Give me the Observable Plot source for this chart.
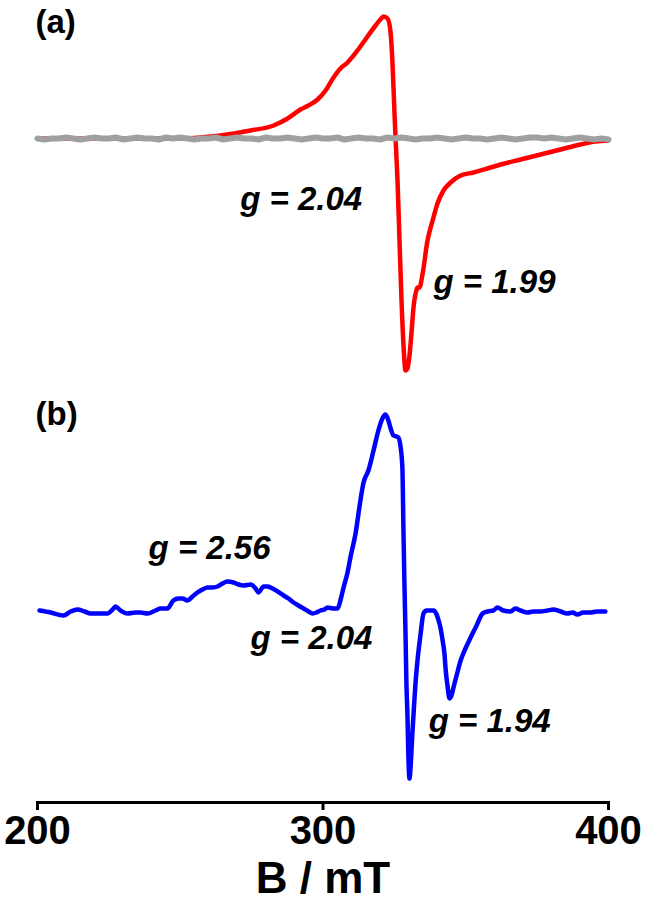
<!DOCTYPE html>
<html><head><meta charset="utf-8">
<script src="https://cdn.jsdelivr.net/npm/d3@7"></script>
<script src="https://cdn.jsdelivr.net/npm/@observablehq/plot@0.6"></script>
<style>
body{margin:0;background:#fff;}
#chart{width:654px;height:917px;position:relative;font-family:"Liberation Sans",Arial,sans-serif;background:#fff;}
#chart svg{display:block;overflow:visible;}
#chart g[aria-label="x-axis label"] text{font-size:44px;font-weight:bold;}
</style></head><body><div id="chart"></div>
<script>
// ---- data (B in mT, intensity in arbitrary units) ----
const redB = [200,208.1,222.1,239.6,250.1,257.1,264.1,274.6,282.7,287.6,292.1,294.9,298.1,300.9,303.7,306.1,308.6,310.7,313.1,315.6,318.4,320.1,321.2,322.6,323.6,324.3,325.0,325.4,326.1,326.8,327.5,328.2,328.9,329.6,330.3,331.0,331.7,332.7,333.1,333.8,334.9,336.6,338.4,340.1,342.2,344.7,348.2,352.7,357.6,362.2,369.2,376.2,383.2,390.2,395.4,400];
const redI = [-1,-1,-1,-1,-1,0,2,7,12,19,28,32,38,47,60,69,75,82,91,101,112,118,121,119,107,77,27,0,-43,-103,-163,-208,-233,-231,-218,-195,-170,-153,-150,-150,-136,-103,-83,-66,-53,-45,-38,-35,-31,-27,-22,-17,-12,-7,-4,-3];

const grayB = [200,202.5,205,207.5,210,212.5,215,217.5,220,222.5,225,227.5,230,232.5,235,237.5,240,242.5,245,247.5,250,252.5,255,257.5,260,262.5,265,267.5,270,272.5,275,277.5,280,282.5,285,287.5,290,292.5,295,297.5,300,302.5,305,307.5,310,312.5,315,317.5,320,322.5,325,327.5,330,332.5,335,337.5,340,342.5,345,347.5,350,352.5,355,357.5,360,362.5,365,367.5,370,372.5,375,377.5,380,382.5,385,387.5,390,392.5,395,397.5,400];
const grayI = [-1,-2,-1,-1,0,-1,-2,-1,0,-1,-1,0,-2,-1,0,-1,-1,-2,0,-1,0,-1,-2,-1,-1,0,-2,-1,0,-1,-1,-2,0,-1,-1,0,-1,-2,-1,0,-1,-1,0,-2,-1,0,-1,-1,-2,0,-1,0,-1,-2,-1,-1,0,-1,-2,-1,0,-1,-1,-2,-1,0,-1,-2,-1,0,0,-1,0,-1,-2,-1,0,-1,-2,-1,-2];

const blueB = [200.7,204.6,209.1,211.6,214.0,216.5,218.6,222.1,224.5,226.3,227.3,229.1,231.5,234.3,236.1,238.5,241.3,243.1,245.5,247.6,249.4,250.8,252.5,254.3,256.0,257.8,259.5,261.3,263.0,264.8,266.5,268.7,270.4,272.2,274.6,276.4,277.4,279.2,280.6,281.6,284.1,286.2,287.9,289.7,291.4,293.2,294.9,296.3,297.7,299.1,300.5,301.6,303.7,305.1,306.1,307.2,308.6,309.6,311.4,313.1,314.2,315.9,317.7,319.4,320.8,321.9,322.9,323.6,324.7,325.7,326.4,327.1,327.8,328.2,328.5,328.9,329.2,329.6,329.9,330.3,330.6,331.3,332.0,332.4,333.1,334.2,335.2,336.3,337.7,338.7,339.8,340.5,341.2,341.9,342.6,342.9,343.6,344.3,345.0,345.7,346.8,348.2,349.9,351.7,353.8,355.9,357.6,359.7,361.1,363.2,365.7,367.4,369.2,371.6,373.7,376.2,378.6,380.7,383.2,385.6,387.4,389.1,391.2,393.7,396.1,398.9];
const blueI = [0,-2,-5,-1,1,-1,-3,-3,-3,1,4,0,-3,-2,-2,-3,0,2,2,10,12,12,10,14,18,21,23,23,24,27,29,28,26,25,26,22,18,24,24,23,19,15,12,8,5,2,-1,-3,-2,0,1,3,2,2,10,23,38,53,77,110,128,140,160,180,192,196,190,183,175,174,173,165,143,77,30,-23,-70,-107,-145,-168,-160,-123,-90,-73,-50,-23,-3,0,0,0,-4,-10,-18,-30,-45,-57,-75,-88,-85,-77,-65,-50,-38,-27,-15,-3,-1,0,3,0,-1,2,0,-2,-1,-1,0,1,-1,-3,-2,-4,-2,-2,-1,-1];

const panelLabels = ["(a)", "(b)"];
const gLabelsA = ["g = 2.04", "g = 1.99"];
const gBA = [271.0, 338.7];
const gIA = [-62, -145];
const gLabelsB = ["g = 2.56", "g = 2.04", "g = 1.94"];
const gBB = [238.9, 274.6, 337.0];
const gIB = [62, -28, -111];
const xTicks = [200, 300, 400];
const xLabel = "B / mT";

// ---- build ----
const rows = (B, I) => B.map((b, i) => ({B: b, I: I[i]}));
const lab = (T, B, I) => T.map((t, i) => ({t, B: B[i], I: I[i]}));
const font = '"Liberation Sans", Arial, sans-serif';

const plotA = Plot.plot({
  width: 654, height: 395,
  marginLeft: 37, marginRight: 46, marginTop: 0, marginBottom: 0,
  x: {domain: [200, 400], axis: null},
  y: {domain: [-258, 137], axis: null},
  style: {fontFamily: font, background: "white", overflow: "visible"},
  marks: [
    Plot.line(rows(redB, redI), {x: "B", y: "I", stroke: "#ff0000", strokeWidth: 4.5, strokeLinejoin: "round", curve: "monotone-x"}),
    Plot.line(rows(grayB, grayI), {x: "B", y: "I", stroke: "#a0a0a0", strokeWidth: 6}),
    Plot.text([panelLabels[0]], {frameAnchor: "top-left", lineAnchor: "top", textAnchor: "start", dx: -2, dy: 9, fontSize: 33, fontWeight: "bold", fill: "black"}),
    Plot.text(lab(gLabelsA, gBA, gIA), {x: "B", y: "I", text: "t", textAnchor: "start", fontSize: 33, fontWeight: "bold", fontStyle: "italic", fill: "black"})
  ]
});

const plotB = Plot.plot({
  width: 654, height: 522,
  marginLeft: 37, marginRight: 46, marginTop: 0, marginBottom: 115,
  x: {domain: [200, 400]},
  y: {domain: [-192, 215], axis: null},
  style: {fontFamily: font, background: "white", overflow: "visible"},
  marks: [
    Plot.frame({anchor: "bottom", strokeWidth: 3, stroke: "black"}),
    Plot.axisX({ticks: xTicks, tickSize: 8, tickPadding: 5, strokeWidth: 3, fontSize: 40, fontWeight: "bold", fill: "black", stroke: "black",
      label: xLabel, labelAnchor: "center", labelOffset: 90, labelArrow: "none"}),
    Plot.line(rows(blueB, blueI), {x: "B", y: "I", stroke: "#0000ff", strokeWidth: 4.5, strokeLinejoin: "round", curve: "monotone-x"}),
    Plot.text([panelLabels[1]], {frameAnchor: "top-left", lineAnchor: "top", textAnchor: "start", dx: -2, dy: 6, fontSize: 33, fontWeight: "bold", fill: "black"}),
    Plot.text(lab(gLabelsB, gBB, gIB), {x: "B", y: "I", text: "t", textAnchor: "start", fontSize: 33, fontWeight: "bold", fontStyle: "italic", fill: "black"})
  ]
});

const c = document.getElementById("chart");
c.appendChild(plotA);
c.appendChild(plotB);
</script>
</body></html>
